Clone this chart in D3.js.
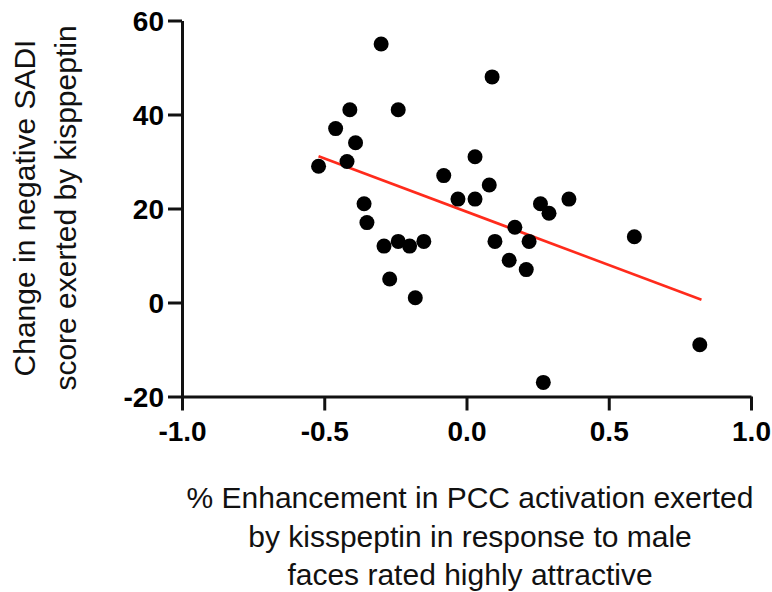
<!DOCTYPE html>
<html>
<head>
<meta charset="utf-8">
<script src="https://cdn.jsdelivr.net/npm/d3@7"></script>
<style>
  html, body { margin: 0; padding: 0; background: #fff; }
  svg { display: block; }
  .tick text { font-family: "Liberation Sans", Arial, sans-serif; font-weight: bold; font-size: 28px; fill: #000; }
  .title { font-family: "Liberation Sans", Arial, sans-serif; font-size: 30px; fill: #111; }
</style>
</head>
<body>
<script>
// Per-subject values: PCC enhancement (x) vs change in negative SADI score (y)
const pccEnhancement = [-0.52, -0.46, -0.42, -0.41, -0.39, -0.36, -0.35, -0.30, -0.29, -0.27,
                        -0.24, -0.24, -0.20, -0.18, -0.15, -0.08, -0.03, 0.03, 0.03, 0.08,
                        0.09, 0.10, 0.15, 0.17, 0.21, 0.22, 0.26, 0.27, 0.29, 0.36,
                        0.59, 0.82];
const sadiChange = [29, 37, 30, 41, 34, 21, 17, 55, 12, 5,
                    41, 13, 12, 1, 13, 27, 22, 31, 22, 25,
                    48, 13, 9, 16, 7, 13, 21, -17, 19, 22,
                    14, -9];

// Regression line end points
const fitX = [-0.52, 0.826];
const fitY = [31.1, 0.6];

const xTicks = [-1.0, -0.5, 0.0, 0.5, 1.0];
const yTicks = [-20, 0, 20, 40, 60];

const yTitleLines = ["Change in negative SADI", "score exerted by kisppeptin"];
const xTitleLines = ["% Enhancement in PCC activation exerted",
                     "by kisspeptin in response to male",
                     "faces rated highly attractive"];

const W = 772, H = 592;
const svg = d3.select("body").append("svg").attr("width", W).attr("height", H);

const x = d3.scaleLinear().domain([-1, 1]).range([182, 751]);
const y = d3.scaleLinear().domain([-20, 60]).range([396.5, 20.5]);

// Plain hyphen for negative tick labels
const fmtX = d => d.toFixed(1);
const fmtY = d => String(d);

// X axis
const xAxis = svg.append("g")
  .attr("transform", `translate(0,${y(-20)})`)
  .call(d3.axisBottom(x).tickValues(xTicks).tickFormat(fmtX)
        .tickSize(14).tickSizeOuter(0).tickPadding(11));

// Y axis
const yAxis = svg.append("g")
  .attr("transform", `translate(${x(-1)},0)`)
  .call(d3.axisLeft(y).tickValues(yTicks).tickFormat(fmtY)
        .tickSize(14).tickSizeOuter(0).tickPadding(4));

[xAxis, yAxis].forEach(g => {
  g.select(".domain").attr("stroke", "#111").attr("stroke-width", 3);
  g.selectAll(".tick line").attr("stroke", "#111").attr("stroke-width", 3);
});
yAxis.selectAll(".tick text").attr("dy", "0.36em");

// Regression line
svg.append("line")
  .attr("x1", x(fitX[0])).attr("y1", y(fitY[0]))
  .attr("x2", x(fitX[1])).attr("y2", y(fitY[1]))
  .attr("stroke", "#ff2b1c").attr("stroke-width", 2.6);

// Data points
svg.append("g").selectAll("circle")
  .data(d3.range(pccEnhancement.length))
  .join("circle")
  .attr("cx", i => x(pccEnhancement[i]))
  .attr("cy", i => y(sadiChange[i]))
  .attr("r", 7.5)
  .attr("fill", "#000");

// Y axis title
const yTitle = svg.append("text").attr("class", "title")
  .attr("text-anchor", "middle")
  .attr("transform", "translate(0,208) rotate(-90)");
yTitle.selectAll("tspan").data(yTitleLines).join("tspan")
  .attr("x", 0).attr("y", (d, i) => 35 + i * 41).text(d => d);

// X axis title
const xTitle = svg.append("text").attr("class", "title").attr("text-anchor", "middle");
xTitle.selectAll("tspan").data(xTitleLines).join("tspan")
  .attr("x", 470).attr("y", (d, i) => 508 + i * 38.5).text(d => d);
</script>
</body>
</html>
